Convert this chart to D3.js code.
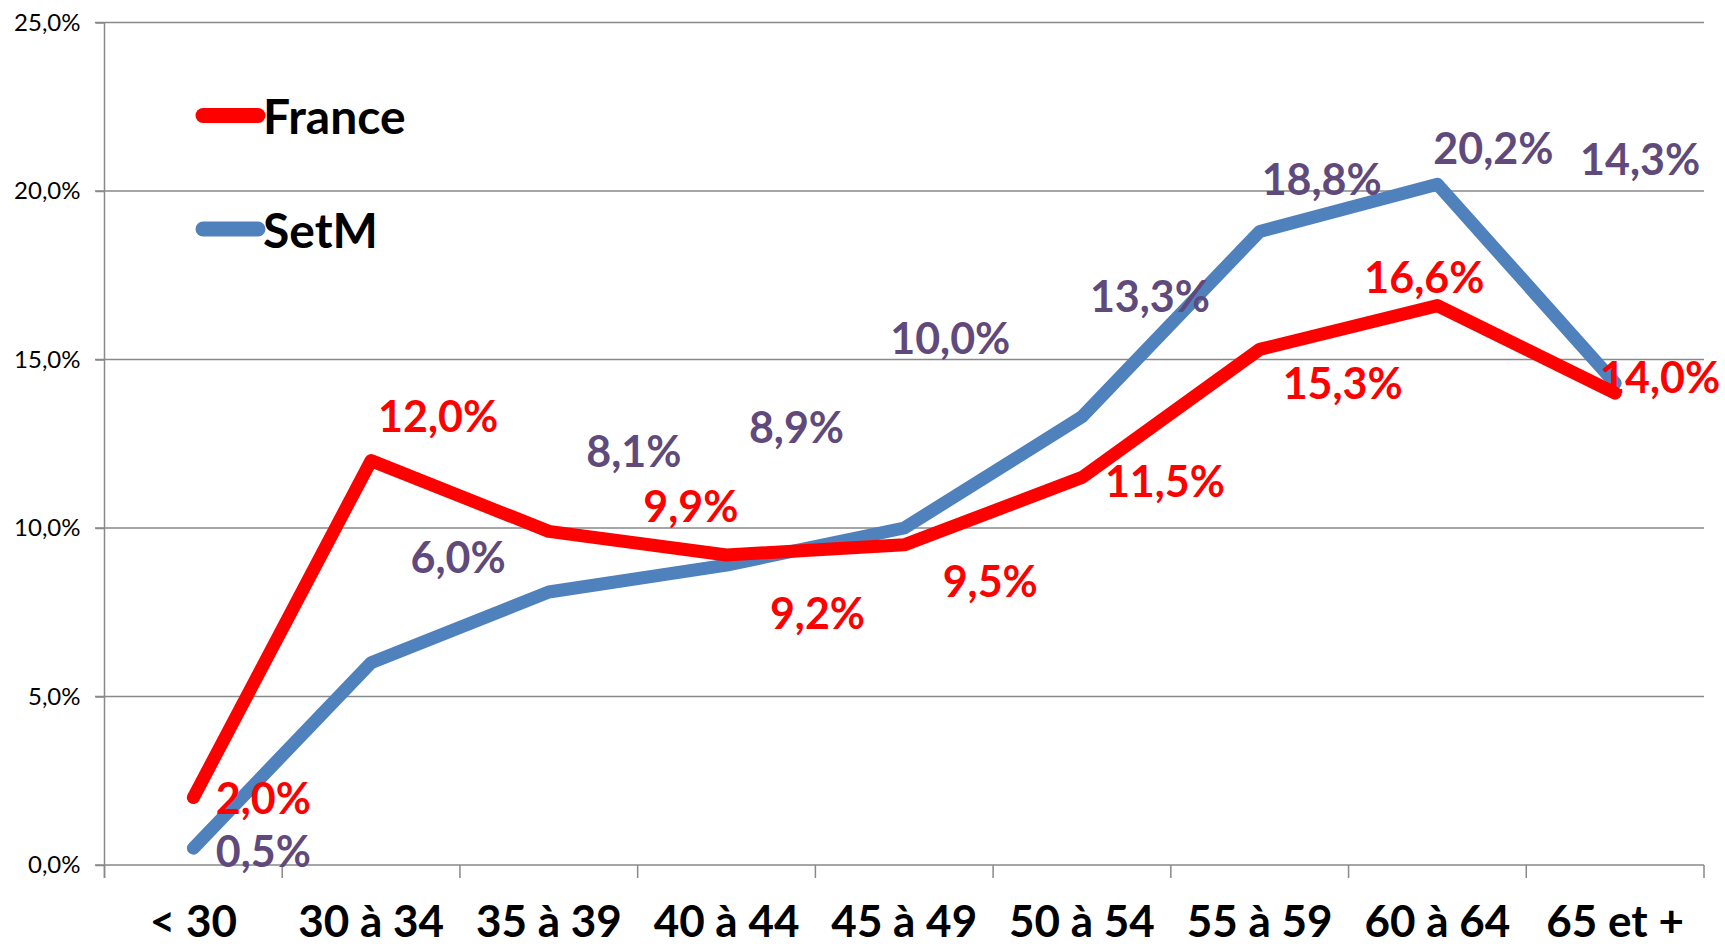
<!DOCTYPE html>
<html><head><meta charset="utf-8">
<script src="https://cdn.jsdelivr.net/npm/d3@7"></script>
<style>body{margin:0;background:#fff}svg{display:block}</style>
</head><body>
<svg id="c" width="1725" height="947"></svg>
<script>
const categories = ["< 30","30 à 34","35 à 39","40 à 44","45 à 49","50 à 54","55 à 59","60 à 64","65 et +"];
const france = [2.0,12.0,9.9,9.2,9.5,11.5,15.3,16.6,14.0];
const setm   = [0.5,6.0,8.1,8.9,10.0,13.3,18.8,20.2,14.3];
const yTicks = [0,5,10,15,20,25];
// label offsets (px) relative to each point, as placed in the reference
const franceLabelOffset = [[70,0],[67,-45],[142,-26],[91,58],[86,36],[83,3],[83,33],[-13,-29],[45,-17]];
const setmLabelOffset   = [[70,2],[87,-106],[85,-142],[70,-139],[46,-191],[68,-121],[62,-53],[56,-37],[25,-225]];

const W=1725,H=947;
const svg=d3.select("#c");
const x=d3.scaleBand().domain(categories).range([104.5,1704]).padding(0);
const y=d3.scaleLinear().domain([0,25]).range([865,22.5]);
const cx=c=>x(c)+x.bandwidth()/2;
const fmt=v=>v.toFixed(1).replace(".",",")+"%";
const grid="#898989";
const font="Lato, 'Open Sans', sans-serif";

// gridlines
svg.append("g").selectAll("line").data(yTicks).join("line")
  .attr("x1",95).attr("x2",1704).attr("y1",d=>y(d)).attr("y2",d=>y(d))
  .attr("stroke",grid).attr("stroke-width",1.5);

// y axis
const ya=svg.append("g").attr("transform","translate(104.5,0)")
  .call(d3.axisLeft(y).tickValues(yTicks).tickFormat(fmt).tickSize(9).tickPadding(15));
ya.select(".domain").remove();
ya.selectAll(".tick line").attr("stroke",grid).attr("stroke-width",1.5);
ya.selectAll(".tick text").attr("font-family",font).attr("font-size",24).attr("fill","#000");
svg.append("line").attr("x1",104.5).attr("x2",104.5).attr("y1",y(25)).attr("y2",878)
  .attr("stroke",grid).attr("stroke-width",1.5);

// x axis ticks at boundaries
const bounds=categories.map(c=>x(c)).concat([x.range()[1]]);
svg.append("g").selectAll("line").data(bounds).join("line")
  .attr("x1",d=>d).attr("x2",d=>d).attr("y1",y(0)).attr("y2",878)
  .attr("stroke",grid).attr("stroke-width",1.5);
const xa=svg.append("g").attr("transform","translate(0,865)")
  .call(d3.axisBottom(x).tickSize(0).tickPadding(0));
xa.select(".domain").remove();
xa.selectAll(".tick text").attr("font-family",font).attr("font-weight",700)
  .attr("font-size",44).attr("fill","#000").attr("dy",null).attr("y",72);

// lines
const line=d3.line().x((d,i)=>cx(categories[i])).y(d=>y(d));
const series=[
  {vals:setm,color:"#4F81BD",lab:"#604A7B",off:setmLabelOffset},
  {vals:france,color:"#FF0000",lab:"#FF0000",off:franceLabelOffset}
];
series.forEach(s=>{
  svg.append("path").datum(s.vals).attr("d",line).attr("fill","none")
    .attr("stroke",s.color).attr("stroke-width",13)
    .attr("stroke-linejoin","round").attr("stroke-linecap","round");
});
// labels
[series[1],series[0]].forEach(s=>{
  svg.append("g").selectAll("text").data(s.vals).join("text")
    .attr("x",(d,i)=>cx(categories[i])+s.off[i][0])
    .attr("y",(d,i)=>y(d)+s.off[i][1])
    .attr("text-anchor","middle").attr("dominant-baseline","central")
    .attr("font-family",font).attr("font-weight",700).attr("font-size",43)
    .attr("fill",s.lab).text(fmt);
});

// legend
const legend=[{name:"France",color:"#FF0000",y:115.5},{name:"SetM",color:"#4F81BD",y:229}];
const lg=svg.append("g").selectAll("g").data(legend).join("g");
lg.append("line").attr("x1",203).attr("x2",258).attr("y1",d=>d.y).attr("y2",d=>d.y)
  .attr("stroke",d=>d.color).attr("stroke-width",15).attr("stroke-linecap","round");
lg.append("text").attr("x",263).attr("y",d=>d.y).attr("dominant-baseline","central")
  .attr("font-family",font).attr("font-weight",700).attr("font-size",48).attr("fill","#000")
  .text(d=>d.name);
</script>
</body></html>
